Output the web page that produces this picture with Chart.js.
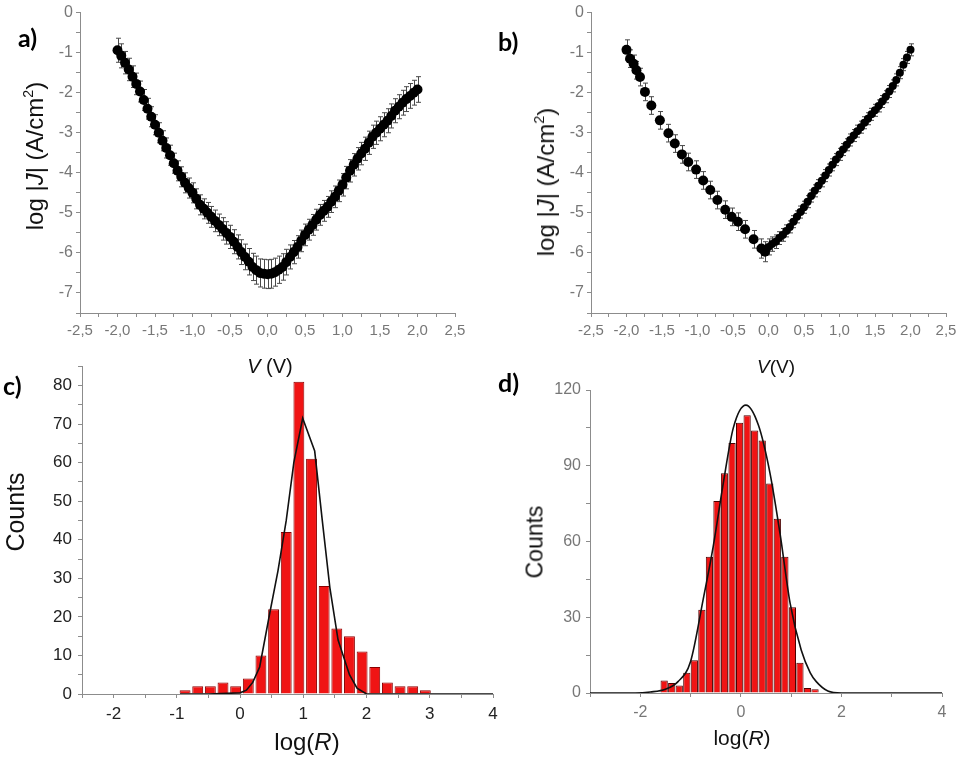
<!DOCTYPE html>
<html>
<head>
<meta charset="utf-8">
<script src="https://cdn.jsdelivr.net/npm/chart.js@4.4.1/dist/chart.umd.min.js"></script>
<style>
  body { margin: 0; background: #fff; width: 962px; height: 761px; position: relative; overflow: hidden; font-family: 'Liberation Sans', Arial, sans-serif; }
  canvas { position: absolute; }
  .lbl { position: absolute; font-family: Lato, 'Open Sans', sans-serif; font-weight: bold; font-size: 25px; line-height: 1; color: #000; }
  .ttl { position: absolute; white-space: nowrap; line-height: 1; color: #111; transform: translate(-50%, -50%); }
  .rot { transform: translate(-50%, -50%) rotate(-90deg); }
  sup { font-size: 0.6em; vertical-align: 0.7em; line-height: 0; }
</style>
</head>
<body>
<canvas id="chartA" width="481" height="360" style="left:0;top:0"></canvas>
<canvas id="chartB" width="481" height="360" style="left:481px;top:0"></canvas>
<canvas id="chartC" width="520" height="390" style="left:0;top:350px"></canvas>
<canvas id="chartD" width="481" height="380" style="left:481px;top:370px"></canvas>

<div class="lbl" style="left:18px;top:25px">a)</div>
<div class="lbl" style="left:498px;top:29px">b)</div>
<div class="lbl" style="left:3px;top:373px">c)</div>
<div class="lbl" style="left:498px;top:370px">d)</div>

<div class="ttl rot" style="left:35px;top:156px;font-size:24px">log |<i>J</i>| (A/cm<sup>2</sup>)</div>
<div class="ttl rot" style="left:546px;top:182px;font-size:24px">log |<i>J</i>| (A/cm<sup>2</sup>)</div>
<div class="ttl" style="left:270px;top:366px;font-size:20px"><i>V</i> (V)</div>
<div class="ttl" style="left:776px;top:366px;font-size:19px"><i>V</i>(V)</div>
<div class="ttl rot" style="left:15px;top:512px;font-size:25px">Counts</div>
<div class="ttl rot" style="left:535px;top:542px;font-size:23px">Counts</div>
<div class="ttl" style="left:307px;top:742px;font-size:24px">log(<i>R</i>)</div>
<div class="ttl" style="left:742px;top:737px;font-size:21px">log(<i>R</i>)</div>

<script>
// a) J-V curve, device 1
const aVolt = [-2, -1.95, -1.9, -1.85, -1.8, -1.75, -1.7, -1.65, -1.6, -1.55, -1.5, -1.45, -1.4, -1.35, -1.3, -1.25, -1.2, -1.15, -1.1, -1.05,
  -1, -0.95, -0.9, -0.85, -0.8, -0.75, -0.7, -0.65, -0.6, -0.55, -0.5, -0.45, -0.4, -0.35, -0.3, -0.25, -0.2, -0.15, -0.1, -0.05,
  0, 0.05, 0.1, 0.15, 0.2, 0.25, 0.3, 0.35, 0.4, 0.45, 0.5, 0.55, 0.6, 0.65, 0.7, 0.75, 0.8, 0.85, 0.9, 0.95,
  1, 1.05, 1.1, 1.15, 1.2, 1.25, 1.3, 1.35, 1.4, 1.45, 1.5, 1.55, 1.6, 1.65, 1.7, 1.75, 1.8, 1.85, 1.9, 1.95, 2];
const aLogJ = [-0.94, -1.08, -1.25, -1.42, -1.6, -1.78, -1.97, -2.18, -2.4, -2.6, -2.8, -3.0, -3.2, -3.38, -3.56, -3.76, -3.95, -4.1, -4.25, -4.38,
  -4.5, -4.65, -4.8, -4.9, -5.0, -5.1, -5.2, -5.3, -5.4, -5.5, -5.6, -5.72, -5.85, -5.98, -6.1, -6.22, -6.35, -6.43, -6.5, -6.52,
  -6.53, -6.52, -6.48, -6.42, -6.35, -6.23, -6.1, -5.98, -5.85, -5.7, -5.55, -5.42, -5.3, -5.17, -5.05, -4.95, -4.85, -4.72, -4.6, -4.45,
  -4.3, -4.12, -3.95, -3.8, -3.65, -3.52, -3.4, -3.25, -3.1, -3.0, -2.9, -2.8, -2.7, -2.58, -2.45, -2.35, -2.25, -2.16, -2.08, -2.0, -1.92];
const aErr = [0.3, 0.3, 0.28, 0.28, 0.27, 0.27, 0.26, 0.26, 0.26, 0.25, 0.25, 0.25, 0.25, 0.25, 0.25, 0.25, 0.25, 0.25, 0.25, 0.25,
  0.25, 0.25, 0.25, 0.25, 0.26, 0.26, 0.27, 0.27, 0.28, 0.28, 0.29, 0.3, 0.3, 0.31, 0.32, 0.33, 0.34, 0.35, 0.35, 0.36,
  0.36, 0.36, 0.35, 0.34, 0.33, 0.32, 0.3, 0.29, 0.28, 0.27, 0.27, 0.26, 0.26, 0.26, 0.26, 0.26, 0.26, 0.27, 0.27, 0.27,
  0.28, 0.28, 0.28, 0.28, 0.28, 0.28, 0.29, 0.29, 0.29, 0.29, 0.3, 0.3, 0.3, 0.3, 0.3, 0.3, 0.31, 0.31, 0.31, 0.31, 0.32];

// b) J-V curve, device 2 (negative and positive branch)
const bVoltNeg = [-2, -1.95, -1.9, -1.86, -1.81, -1.74, -1.65, -1.53, -1.41, -1.32, -1.22, -1.13, -1.02, -0.92, -0.82, -0.72, -0.61, -0.52, -0.43, -0.33, -0.21, -0.1, -0.05];
const bLogJNeg = [-0.93, -1.15, -1.28, -1.44, -1.61, -1.98, -2.32, -2.69, -3.01, -3.27, -3.54, -3.73, -3.92, -4.19, -4.43, -4.68, -4.92, -5.1, -5.22, -5.41, -5.66, -5.89, -5.97];
const bErrNeg = [0.25, 0.22, 0.22, 0.22, 0.22, 0.22, 0.22, 0.22, 0.22, 0.22, 0.22, 0.22, 0.22, 0.22, 0.22, 0.22, 0.22, 0.22, 0.22, 0.22, 0.22, 0.24, 0.25];
const bVoltPos = [0, 0.05, 0.1, 0.15, 0.2, 0.25, 0.3, 0.35, 0.4, 0.45, 0.5, 0.55, 0.6, 0.65, 0.7, 0.75, 0.8, 0.85, 0.9, 0.95,
  1, 1.05, 1.1, 1.15, 1.2, 1.25, 1.3, 1.35, 1.4, 1.45, 1.5, 1.55, 1.6, 1.65, 1.7, 1.75, 1.8, 1.85, 1.9, 1.95, 2];
const bLogJPos = [-5.85, -5.78, -5.72, -5.63, -5.55, -5.45, -5.35, -5.22, -5.1, -4.98, -4.86, -4.72, -4.58, -4.45, -4.32, -4.2, -4.07, -3.93, -3.8, -3.67,
  -3.54, -3.42, -3.3, -3.18, -3.07, -2.96, -2.86, -2.75, -2.65, -2.54, -2.44, -2.33, -2.22, -2.1, -1.97, -1.83, -1.68, -1.5, -1.3, -1.12, -0.93];
const bErrPos = [0.2, 0.18, 0.17, 0.16, 0.16, 0.15, 0.15, 0.15, 0.15, 0.15, 0.15, 0.15, 0.15, 0.15, 0.15, 0.15, 0.15, 0.15, 0.15, 0.15,
  0.15, 0.15, 0.15, 0.15, 0.15, 0.15, 0.15, 0.15, 0.15, 0.15, 0.15, 0.15, 0.15, 0.15, 0.15, 0.15, 0.15, 0.15, 0.15, 0.15, 0.15];

// c) histogram of log(R) with fit
const cBins = [-0.87, -0.67, -0.47, -0.27, -0.07, 0.13, 0.33, 0.53, 0.73, 0.93, 1.13, 1.33, 1.53, 1.73, 1.93, 2.13, 2.33, 2.53, 2.73, 2.93];
const cCounts = [1, 2, 2, 3, 2, 4, 10, 22, 42, 81, 61, 28, 17, 15, 11, 7, 3, 2, 2, 1];
const cFitX = [-0.95, -0.5, 0, 0.1, 0.2, 0.31, 0.47, 0.6, 0.73, 0.85, 0.99, 1.18, 1.3, 1.42, 1.55, 1.73, 1.85, 2.0, 3.0, 4.0];
const cFitY = [0, 0, 0.3, 1, 3, 7, 21, 32, 45, 60, 71.5, 63, 45, 27.6, 14, 5, 1.5, 0, 0, 0];

// d) histogram of log(R) with fit
const dBins = [-1.525, -1.375, -1.225, -1.075, -0.925, -0.775, -0.625, -0.475, -0.325, -0.175, -0.025, 0.125, 0.275, 0.425, 0.575, 0.725, 0.875, 1.025, 1.175, 1.325, 1.475];
const dCounts = [5, 4, 3, 8, 13, 33, 54, 76, 87, 99, 107, 110, 104, 100, 83, 69, 54, 34, 12, 2, 1.5];
const dFitX = [-3, -2.1, -1.8, -1.5, -1.25, -1.0, -0.75, -0.55, -0.35, -0.15, 0.1, 0.35, 0.58, 0.78, 0.98, 1.2, 1.38, 1.5, 1.73, 2.0, 4];
const dFitY = [0, 0, 0.4, 1.5, 4.5, 12.5, 37, 58, 83, 105, 114, 106, 87, 63, 35.5, 17, 8, 4.5, 0.8, 0, 0];

const pts = (xs, ys) => xs.map((x, i) => ({ x: x, y: ys[i] }));
const isMult = (v, n) => Math.abs(v / n - Math.round(v / n)) < 1e-6;
const commaFmt = v => isMult(v, 0.5) ? (Math.round(v * 10) / 10 + 0).toFixed(1).replace('.', ',') : '';
const intFmt = n => v => isMult(v, n) ? String(Math.round(v) + 0) : '';

// vertical error bars with caps, drawn under the markers
const errorBars = {
  id: 'errorBars',
  beforeDatasetsDraw(chart) {
    const { ctx, scales: { x, y } } = chart;
    ctx.save();
    ctx.strokeStyle = '#4a4a4a';
    ctx.lineWidth = 1;
    chart.data.datasets.forEach(ds => {
      if (!ds.errors) return;
      ds.data.forEach((p, i) => {
        const px = Math.round(x.getPixelForValue(p.x)) + 0.5;
        const top = y.getPixelForValue(p.y + ds.errors[i]);
        const bot = y.getPixelForValue(p.y - ds.errors[i]);
        ctx.beginPath();
        ctx.moveTo(px, top); ctx.lineTo(px, bot);
        ctx.moveTo(px - 2.5, top); ctx.lineTo(px + 2.5, top);
        ctx.moveTo(px - 2.5, bot); ctx.lineTo(px + 2.5, bot);
        ctx.stroke();
      });
    });
    ctx.restore();
  }
};

function axis(o) {
  return {
    type: 'linear', min: o.min, max: o.max, offset: false,
    border: { display: true, color: '#8c8c8c', width: 1 },
    grid: { drawOnChartArea: false, drawTicks: true, tickLength: 4, color: '#8c8c8c', offset: false },
    ticks: {
      stepSize: o.step, maxTicksLimit: 200, autoSkip: false, maxRotation: 0, minRotation: 0,
      color: o.color, padding: o.pad, font: { family: 'Liberation Sans', size: o.size }, callback: o.fmt
    },
    afterFit: o.fit
  };
}

function baseOptions(pad, xAxis, yAxis) {
  return {
    responsive: false, animation: false, events: [],
    layout: { padding: pad },
    plugins: { legend: { display: false }, tooltip: { enabled: false } },
    scales: { x: xAxis, y: yAxis }
  };
}

// a)
new Chart(document.getElementById('chartA'), {
  type: 'scatter',
  data: { datasets: [{ data: pts(aVolt, aLogJ), errors: aErr, pointRadius: 5, pointBackgroundColor: '#000', pointBorderWidth: 0 }] },
  options: baseOptions({ left: 0, top: 12, right: 26, bottom: 0 },
    axis({ min: -2.5, max: 2.5, step: 0.25, color: '#777', size: 15, pad: 5, fmt: commaFmt, fit: s => { s.height = 47; } }),
    axis({ min: -7.5, max: 0, step: 0.5, color: '#777', size: 16, pad: 3, fmt: intFmt(1), fit: s => { s.width = 80; } })),
  plugins: [errorBars]
});

// b)
new Chart(document.getElementById('chartB'), {
  type: 'scatter',
  data: { datasets: [
    { data: pts(bVoltNeg, bLogJNeg), errors: bErrNeg, pointRadius: 5, pointBackgroundColor: '#000', pointBorderWidth: 0 },
    { data: pts(bVoltPos, bLogJPos), errors: bErrPos, pointRadius: 4, pointBackgroundColor: '#000', pointBorderWidth: 0 }
  ] },
  options: baseOptions({ left: 0, top: 12, right: 16, bottom: 0 },
    axis({ min: -2.5, max: 2.5, step: 0.25, color: '#777', size: 15, pad: 5, fmt: commaFmt, fit: s => { s.height = 47; } }),
    axis({ min: -7.5, max: 0, step: 0.5, color: '#777', size: 16, pad: 3, fmt: intFmt(1), fit: s => { s.width = 110; } })),
  plugins: [errorBars]
});

// c)
new Chart(document.getElementById('chartC'), {
  type: 'bar',
  data: { datasets: [
    { type: 'line', data: pts(cFitX, cFitY), borderColor: '#111', borderWidth: 1.6, pointRadius: 0, tension: 0, order: 1 },
    { type: 'bar', data: pts(cBins, cCounts), backgroundColor: '#f01414', borderColor: '#8a0000', borderWidth: 1,
      barPercentage: 0.86, categoryPercentage: 1, order: 2 }
  ] },
  options: baseOptions({ left: 0, top: 14, right: 27, bottom: 0 },
    axis({ min: -2.5, max: 4, step: 0.5, color: '#222', size: 17, pad: 6, fmt: intFmt(1), fit: s => { s.height = 46; } }),
    axis({ min: 0, max: 85, step: 5, color: '#222', size: 17, pad: 6, fmt: intFmt(10), fit: s => { s.width = 82; } }))
});

// d)
new Chart(document.getElementById('chartD'), {
  type: 'bar',
  data: { datasets: [
    { type: 'line', data: pts(dFitX, dFitY), borderColor: '#111', borderWidth: 1.6, pointRadius: 0, cubicInterpolationMode: 'monotone', order: 1 },
    { type: 'bar', data: pts(dBins, dCounts), backgroundColor: '#f01414', borderColor: '#4a0000', borderWidth: 1,
      barPercentage: 0.96, categoryPercentage: 1, order: 2 }
  ] },
  options: baseOptions({ left: 0, top: 20, right: 20, bottom: 0 },
    axis({ min: -3, max: 4, step: 1, color: '#777', size: 16, pad: 6, fmt: intFmt(2), fit: s => { s.height = 57; } }),
    axis({ min: 0, max: 120, step: 15, color: '#777', size: 16, pad: 5, fmt: intFmt(30), fit: s => { s.width = 109; } }))
});
</script>
</body>
</html>
